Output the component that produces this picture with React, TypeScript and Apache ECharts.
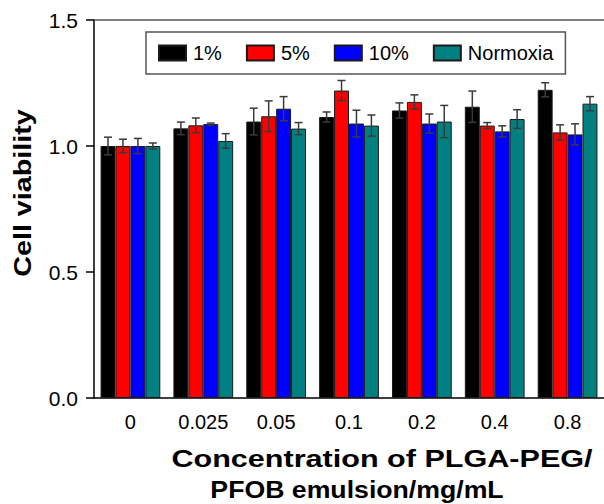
import React, { useEffect, useRef } from "react";
import * as echarts from "echarts";

const categories = ["0", "0.025", "0.05", "0.1", "0.2", "0.4", "0.8"];
const seriesNames = ["1%", "5%", "10%", "Normoxia"];
const seriesColors = ["#000000", "#ff0000", "#0000ff", "#008080"];
const values1 = [1.0, 1.07, 1.097, 1.115, 1.141, 1.156, 1.223];
const errors1 = [0.035, 0.025, 0.053, 0.02, 0.03, 0.062, 0.028];
const values5 = [1.0, 1.082, 1.118, 1.22, 1.175, 1.081, 1.054];
const errors5 = [0.027, 0.029, 0.061, 0.04, 0.028, 0.012, 0.03];
const values10 = [1.0, 1.087, 1.148, 1.089, 1.089, 1.058, 1.046];
const errors10 = [0.03, 0.004, 0.048, 0.053, 0.038, 0.022, 0.042];
const valuesN = [1.0, 1.02, 1.069, 1.081, 1.097, 1.107, 1.168];
const errorsN = [0.012, 0.029, 0.024, 0.042, 0.064, 0.037, 0.028];
const yTicks = [0, 0.5, 1.0, 1.5];
const xTitle1 = "Concentration of PLGA-PEG/";
const xTitle2 = "PFOB emulsion/mg/mL";
const yTitle = "Cell viability";

const allValues = [values1, values5, values10, valuesN];
const allErrors = [errors1, errors5, errors10, errorsN];

const FONT = "'Liberation Sans', Arial, Helvetica, sans-serif";
const GAP = 0.18;

export default function App() {
  const ref = useRef<HTMLDivElement>(null);
  useEffect(() => {
    document.body.style.margin = "0";
    const chart = echarts.init(ref.current!, null, { renderer: "svg" });
    const bars = seriesNames.map((name, i) => ({
      name,
      type: "bar",
      data: allValues[i],
      barGap: "0%",
      barCategoryGap: GAP * 100 + "%",
      itemStyle: { color: seriesColors[i], borderColor: "#1a1a1a", borderWidth: 1 },
      z: 2,
    }));
    const errs = seriesNames.map((name, si) => ({
      type: "custom",
      name: name + "-err",
      data: allValues[si].map((v, j) => [j, v, allErrors[si][j]]),
      z: 5,
      renderItem: (params: any, api: any) => {
        const idx = api.value(0);
        const v = api.value(1);
        const e = api.value(2);
        const band = api.size([1, 0])[0];
        const bw = (band * (1 - GAP)) / 4;
        const cx = api.coord([idx, v])[0] + (si - 1.5) * bw;
        const top = api.coord([idx, v + e])[1];
        const bot = api.coord([idx, v - e])[1];
        const hw = 4;
        const style = { stroke: "#3a3a3a", lineWidth: 1.5 };
        return {
          type: "group",
          children: [
            { type: "line", shape: { x1: cx, y1: top, x2: cx, y2: bot }, style },
            { type: "line", shape: { x1: cx - hw, y1: top, x2: cx + hw, y2: top }, style },
            { type: "line", shape: { x1: cx - hw, y1: bot, x2: cx + hw, y2: bot }, style },
          ],
        };
      },
    }));
    chart.setOption({
      animation: false,
      textStyle: { fontFamily: FONT },
      grid: { left: 94, top: 20, right: 0, bottom: 106, containLabel: false },
      legend: {
        data: seriesNames,
        left: 146,
        top: 32,
        padding: [11, 12, 11, 12],
        borderColor: "#555",
        borderWidth: 1.5,
        itemWidth: 27,
        itemHeight: 15,
        itemGap: 24,
        icon: "rect",
        textStyle: { fontSize: 20, color: "#000", fontFamily: FONT, padding: [0, 0, 0, 2] },
      },
      xAxis: [
        {
          type: "category",
          data: categories,
          axisLine: { lineStyle: { color: "#000", width: 1.5 } },
          axisTick: { alignWithLabel: true, length: 7, lineStyle: { color: "#000", width: 1.5 } },
          axisLabel: { fontSize: 20, color: "#000", margin: 14, fontFamily: FONT },
        },
        {
          type: "category",
          position: "top",
          data: categories,
          axisLine: { show: true, lineStyle: { color: "#555", width: 1.5 } },
          axisTick: { show: false },
          axisLabel: { show: false },
        },
      ],
      yAxis: {
        type: "value",
        min: 0,
        max: 1.5,
        interval: 0.5,
        axisLine: { show: true, lineStyle: { color: "#000", width: 1.5 } },
        axisTick: { show: true, length: 8, lineStyle: { color: "#000", width: 1.5 } },
        splitLine: { show: false },
        axisLabel: {
          fontSize: 21,
          color: "#000",
          margin: 16,
          fontFamily: FONT,
          formatter: (v: number) => (yTicks.includes(v) ? v.toFixed(1) : ""),
        },
      },
      graphic: [
        {
          type: "text",
          x: 382,
          y: 459,
          scaleX: 1.33,
          style: { text: xTitle1, font: `bold 23px ${FONT}`, fill: "#000", textAlign: "center", textVerticalAlign: "middle" },
        },
        {
          type: "text",
          x: 357,
          y: 490,
          scaleX: 1.16,
          style: { text: xTitle2, font: `bold 23px ${FONT}`, fill: "#000", textAlign: "center", textVerticalAlign: "middle" },
        },
        {
          type: "text",
          x: 23,
          y: 193,
          rotation: Math.PI / 2,
          scaleX: 1.25,
          style: { text: yTitle, font: `bold 23px ${FONT}`, fill: "#000", textAlign: "center", textVerticalAlign: "middle" },
        },
      ],
      series: [...bars, ...errs],
    });
    return () => chart.dispose();
  }, []);
  return <div ref={ref} style={{ width: 604, height: 504 }} />;
}
